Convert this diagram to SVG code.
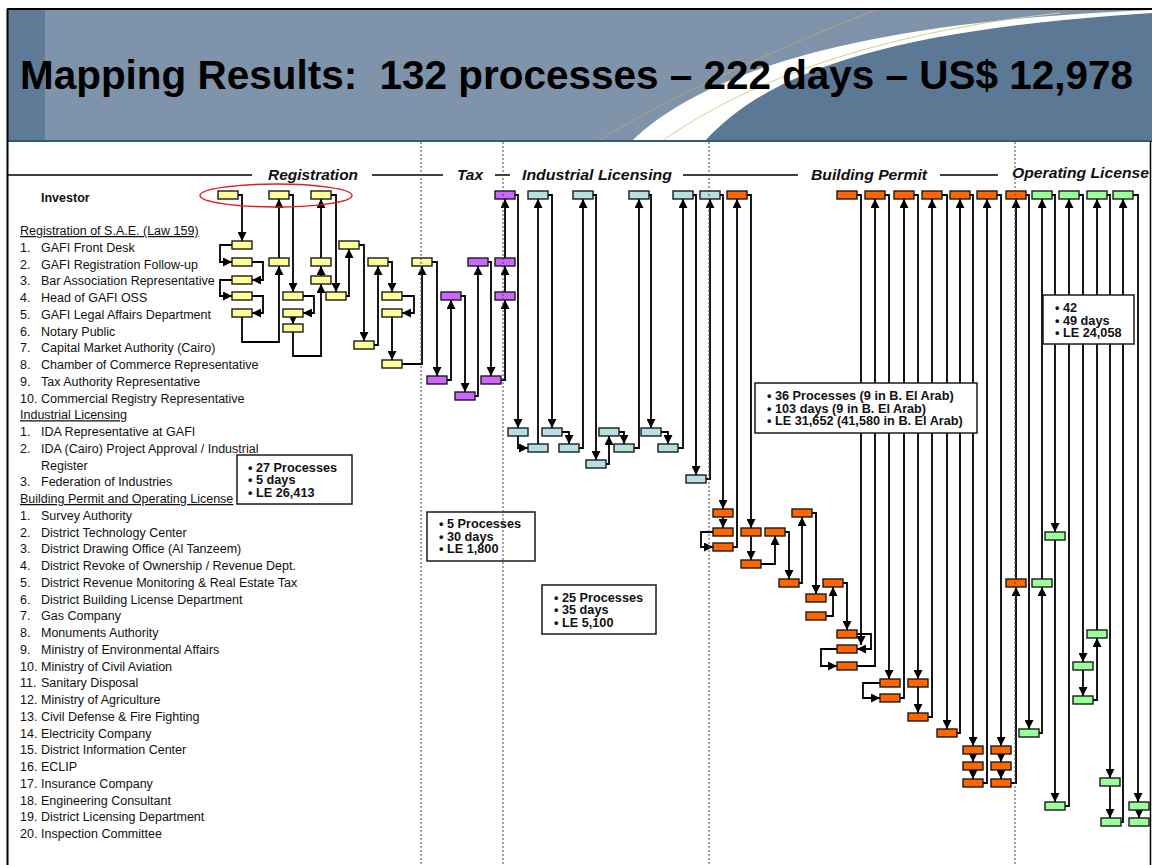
<svg xmlns="http://www.w3.org/2000/svg" width="1152" height="865" viewBox="0 0 1152 865">
<style>
text{font-family:"Liberation Sans",Arial,sans-serif;fill:#111}
.li{font-size:12.5px}
.sec{font-size:15px;font-weight:bold;font-style:italic}
.sum{font-size:12.7px;font-weight:bold}
.nd rect{stroke:#1a1a1a;stroke-width:1.4}
.y rect{fill:#ffff99}
.p rect{fill:#cc66ff}
.l rect{fill:#b8dfe2}
.o rect{fill:#ff6600}
.g rect{fill:#99ff99}
#connectors path{fill:none;stroke:#000;stroke-width:1.8;marker-end:url(#ah)}
.sb{fill:#fff;stroke:#1a1a1a;stroke-width:1.5}
.dot{stroke:#444;stroke-width:1;stroke-dasharray:2 2}
</style>
<defs>
<marker id="ah" viewBox="0 0 8 8" refX="8" refY="4" markerWidth="9" markerHeight="9" markerUnits="userSpaceOnUse" orient="auto"><path d="M0,0L8,4L0,8z" fill="#000"/></marker>
</defs>
<rect x="0" y="0" width="1152" height="865" fill="#fff"/>
<g id="header">
<rect x="8" y="10" width="1144" height="131" fill="#7f94ab"/>
<rect x="8" y="10" width="37" height="131" fill="#5f7b97"/>
<path d="M705,141 C765,75 880,30 1152,13 L1152,141 Z" fill="#5b7895"/>
<path d="M632,141 C700,75 850,22 1152,10 L1152,13 C880,30 765,75 705,141 Z" fill="#fff"/>
<path d="M598,141 C680,90 800,40 875,10" stroke="#b0a57a" fill="none" stroke-width="1"/>
<path d="M662,141 C760,72 900,30 1060,13" stroke="#d8d08a" fill="none" stroke-width="1"/>
<line x1="8" y1="141" x2="1152" y2="141" stroke="#2f5a78" stroke-width="2"/>
<text x="20" y="89" font-size="41" font-weight="bold" textLength="1113" lengthAdjust="spacingAndGlyphs" style="fill:#000">Mapping Results:&#160; 132 processes – 222 days – US$ 12,978</text>
</g>
<g id="frame" stroke="#000" fill="none">
<line x1="7" y1="9" x2="1152" y2="9" stroke-width="2"/>
<line x1="7.5" y1="9" x2="7.5" y2="865" stroke-width="2"/>
<line x1="1150.5" y1="141" x2="1150.5" y2="865" stroke-width="1.5"/>
</g>
<g id="sections">
<g stroke="#000" stroke-width="1.5">
<line x1="8" y1="175" x2="252" y2="175"/>
<line x1="372" y1="175" x2="443" y2="175"/>
<line x1="495" y1="175" x2="510" y2="175"/>
<line x1="683" y1="175" x2="798" y2="175"/>
<line x1="940" y1="175" x2="998" y2="175"/>
</g>
<text class="sec" x="268" y="180" textLength="90" lengthAdjust="spacingAndGlyphs">Registration</text>
<text class="sec" x="457" y="180" textLength="26" lengthAdjust="spacingAndGlyphs">Tax</text>
<text class="sec" x="522" y="180" textLength="150" lengthAdjust="spacingAndGlyphs">Industrial Licensing</text>
<text class="sec" x="811" y="180" textLength="116" lengthAdjust="spacingAndGlyphs">Building Permit</text>
<text class="sec" x="1012" y="178" textLength="137" lengthAdjust="spacingAndGlyphs">Operating License</text>
</g>
<g id="legend" class="li">
<text x="41" y="201.5" font-weight="bold">Investor</text>
<text x="20" y="235" text-decoration="underline">Registration of S.A.E. (Law 159)</text>
<text x="20" y="251.75">1.</text><text x="41" y="251.75">GAFI Front Desk</text>
<text x="20" y="268.5">2.</text><text x="41" y="268.5">GAFI Registration Follow-up</text>
<text x="20" y="285.25">3.</text><text x="41" y="285.25">Bar Association Representative</text>
<text x="20" y="302">4.</text><text x="41" y="302">Head of GAFI OSS</text>
<text x="20" y="318.75">5.</text><text x="41" y="318.75">GAFI Legal Affairs Department</text>
<text x="20" y="335.5">6.</text><text x="41" y="335.5">Notary Public</text>
<text x="20" y="352.25">7.</text><text x="41" y="352.25">Capital Market Authority (Cairo)</text>
<text x="20" y="369">8.</text><text x="41" y="369">Chamber of Commerce Representative</text>
<text x="20" y="385.75">9.</text><text x="41" y="385.75">Tax Authority Representative</text>
<text x="20" y="402.5">10.</text><text x="41" y="402.5">Commercial Registry Representative</text>
<text x="20" y="419.25" text-decoration="underline">Industrial Licensing</text>
<text x="20" y="436">1.</text><text x="41" y="436">IDA Representative at GAFI</text>
<text x="20" y="452.75">2.</text><text x="41" y="452.75">IDA (Cairo) Project Approval / Industrial</text>
<text x="41" y="469.5">Register</text>
<text x="20" y="486.25">3.</text><text x="41" y="486.25">Federation of Industries</text>
<text x="20" y="503" text-decoration="underline">Building Permit and Operating License</text>
<text x="20" y="519.75">1.</text><text x="41" y="519.75">Survey Authority</text>
<text x="20" y="536.5">2.</text><text x="41" y="536.5">District Technology Center</text>
<text x="20" y="553.25">3.</text><text x="41" y="553.25">District Drawing Office (Al Tanzeem)</text>
<text x="20" y="570">4.</text><text x="41" y="570">District Revoke of Ownership / Revenue Dept.</text>
<text x="20" y="586.75">5.</text><text x="41" y="586.75">District Revenue Monitoring &amp; Real Estate Tax</text>
<text x="20" y="603.5">6.</text><text x="41" y="603.5">District Building License Department</text>
<text x="20" y="620.25">7.</text><text x="41" y="620.25">Gas Company</text>
<text x="20" y="637">8.</text><text x="41" y="637">Monuments Authority</text>
<text x="20" y="653.75">9.</text><text x="41" y="653.75">Ministry of Environmental Affairs</text>
<text x="20" y="670.5">10.</text><text x="41" y="670.5">Ministry of Civil Aviation</text>
<text x="20" y="687.25">11.</text><text x="41" y="687.25">Sanitary Disposal</text>
<text x="20" y="704">12.</text><text x="41" y="704">Ministry of Agriculture</text>
<text x="20" y="720.75">13.</text><text x="41" y="720.75">Civil Defense &amp; Fire Fighting</text>
<text x="20" y="737.5">14.</text><text x="41" y="737.5">Electricity Company</text>
<text x="20" y="754.25">15.</text><text x="41" y="754.25">District Information Center</text>
<text x="20" y="771">16.</text><text x="41" y="771">ECLIP</text>
<text x="20" y="787.75">17.</text><text x="41" y="787.75">Insurance Company</text>
<text x="20" y="804.5">18.</text><text x="41" y="804.5">Engineering Consultant</text>
<text x="20" y="821.25">19.</text><text x="41" y="821.25">District Licensing Department</text>
<text x="20" y="838">20.</text><text x="41" y="838">Inspection Committee</text>
</g>
<g id="connectors">
<path d="M238,195 H242 V241"/>
<path d="M232,245 H220 V262 H232"/>
<path d="M252,262 H263 V280 H252"/>
<path d="M232,280 H220 V296 H232"/>
<path d="M252,296 H263 V313 H252"/>
<path d="M242,317 V342 H279 V266"/>
<path d="M279,258 V199"/>
<path d="M289,195 H293 V292"/>
<path d="M303,296 H314 V313 H303"/>
<path d="M293,317 V324"/>
<path d="M293,332 V356 H321 V284"/>
<path d="M321,276 V266"/>
<path d="M321,258 V199"/>
<path d="M331,195 H336 V292"/>
<path d="M346,296 H349 V249"/>
<path d="M359,245 H364 V341"/>
<path d="M374,345 H378 V266"/>
<path d="M388,262 H392 V292"/>
<path d="M402,296 H414 V313 H402"/>
<path d="M392,317 V360"/>
<path d="M402,364 H422 V266"/>
<path d="M432,262 H437 V376"/>
<path d="M447,380 H451 V300"/>
<path d="M461,296 H465 V392"/>
<path d="M475,396 H478 V266"/>
<path d="M488,262 H491 V376"/>
<path d="M501,380 H505 V300"/>
<path d="M505,292 V266"/>
<path d="M505,258 V199"/>
<path d="M515,195 H518 V428"/>
<path d="M518,436 V448 H528"/>
<path d="M538,444 V199"/>
<path d="M548,195 H552 V428"/>
<path d="M562,432 H569 V444"/>
<path d="M579,448 H583 V199"/>
<path d="M593,195 H596 V460"/>
<path d="M606,464 H609 V436"/>
<path d="M619,432 H624 V444"/>
<path d="M634,448 H639 V199"/>
<path d="M649,195 H651 V428"/>
<path d="M661,432 H668 V444"/>
<path d="M678,448 H683 V199"/>
<path d="M693,195 H696 V475"/>
<path d="M706,479 H710 V199"/>
<path d="M720,195 H723 V509"/>
<path d="M723,517 V528"/>
<path d="M713,532 H701 V547 H713"/>
<path d="M733,547 H737 V199"/>
<path d="M747,195 H751 V528"/>
<path d="M751,536 V560"/>
<path d="M761,564 H775 V536"/>
<path d="M785,532 H789 V579"/>
<path d="M799,583 H802 V517"/>
<path d="M812,513 H816 V594"/>
<path d="M826,616 H833 V587"/>
<path d="M843,583 H847 V630"/>
<path d="M857,634 H871 V649 H857"/>
<path d="M857,195 H861 V645"/>
<path d="M837,649 H821 V666 H837"/>
<path d="M857,666 H875 V199"/>
<path d="M885,195 H889 V679"/>
<path d="M880,683 H863 V698 H880"/>
<path d="M900,698 H904 V199"/>
<path d="M914,195 H918 V679"/>
<path d="M918,687 V713"/>
<path d="M928,717 H932 V199"/>
<path d="M942,195 H947 V729"/>
<path d="M957,733 H960 V199"/>
<path d="M970,195 H973 V746"/>
<path d="M973,754 V762"/>
<path d="M973,770 V779"/>
<path d="M983,783 H987 V199"/>
<path d="M997,195 H1001 V746"/>
<path d="M1001,754 V762"/>
<path d="M1001,770 V779"/>
<path d="M1011,783 H1016 V587"/>
<path d="M1016,579 V199"/>
<path d="M1026,195 H1029 V729"/>
<path d="M1039,733 H1042 V587"/>
<path d="M1042,579 V199"/>
<path d="M1052,195 H1055 V532"/>
<path d="M1055,540 V802"/>
<path d="M1065,806 H1069 V199"/>
<path d="M1079,195 H1083 V662"/>
<path d="M1083,670 V696"/>
<path d="M1093,700 H1097 V638"/>
<path d="M1097,630 V199"/>
<path d="M1107,195 H1110 V778"/>
<path d="M1110,786 V818"/>
<path d="M1121,822 H1123 V199"/>
<path d="M1133,195 H1138 V802"/>
<path d="M1139,810 V818"/>
</g>
<g id="nodes" class="nd">
<g class="y">
<g id="y1"><rect x="218" y="191" width="20" height="8"/></g>
<g id="y2"><rect x="269" y="191" width="20" height="8"/></g>
<g id="y3"><rect x="311" y="191" width="20" height="8"/></g>
<g id="y4"><rect x="232" y="241" width="20" height="8"/></g>
<g id="y5"><rect x="232" y="258" width="20" height="8"/></g>
<g id="y6"><rect x="232" y="276" width="20" height="8"/></g>
<g id="y7"><rect x="232" y="292" width="20" height="8"/></g>
<g id="y8"><rect x="232" y="309" width="20" height="8"/></g>
<g id="y9"><rect x="269" y="258" width="20" height="8"/></g>
<g id="y10"><rect x="283" y="292" width="20" height="8"/></g>
<g id="y11"><rect x="283" y="309" width="20" height="8"/></g>
<g id="y12"><rect x="283" y="324" width="20" height="8"/></g>
<g id="y13"><rect x="311" y="276" width="20" height="8"/></g>
<g id="y14"><rect x="311" y="258" width="20" height="8"/></g>
<g id="y15"><rect x="326" y="292" width="20" height="8"/></g>
<g id="y16"><rect x="339" y="241" width="20" height="8"/></g>
<g id="y17"><rect x="354" y="341" width="20" height="8"/></g>
<g id="y18"><rect x="368" y="258" width="20" height="8"/></g>
<g id="y19"><rect x="382" y="292" width="20" height="8"/></g>
<g id="y20"><rect x="382" y="309" width="20" height="8"/></g>
<g id="y21"><rect x="382" y="360" width="20" height="8"/></g>
<g id="y22"><rect x="412" y="258" width="20" height="8"/></g>
</g>
<g class="p">
<g id="p1"><rect x="427" y="376" width="20" height="8"/></g>
<g id="p2"><rect x="441" y="292" width="20" height="8"/></g>
<g id="p3"><rect x="455" y="392" width="20" height="8"/></g>
<g id="p4"><rect x="468" y="258" width="20" height="8"/></g>
<g id="p5"><rect x="481" y="376" width="20" height="8"/></g>
<g id="p6"><rect x="495" y="292" width="20" height="8"/></g>
<g id="p7"><rect x="495" y="258" width="20" height="8"/></g>
<g id="p8"><rect x="495" y="191" width="20" height="8"/></g>
</g>
<g class="l">
<g id="l1"><rect x="528" y="191" width="20" height="8"/></g>
<g id="l2"><rect x="573" y="191" width="20" height="8"/></g>
<g id="l3"><rect x="629" y="191" width="20" height="8"/></g>
<g id="l4"><rect x="673" y="191" width="20" height="8"/></g>
<g id="l5"><rect x="700" y="191" width="20" height="8"/></g>
<g id="l6"><rect x="508" y="428" width="20" height="8"/></g>
<g id="l7"><rect x="528" y="444" width="20" height="8"/></g>
<g id="l8"><rect x="542" y="428" width="20" height="8"/></g>
<g id="l9"><rect x="559" y="444" width="20" height="8"/></g>
<g id="l10"><rect x="586" y="460" width="20" height="8"/></g>
<g id="l11"><rect x="599" y="428" width="20" height="8"/></g>
<g id="l12"><rect x="614" y="444" width="20" height="8"/></g>
<g id="l13"><rect x="641" y="428" width="20" height="8"/></g>
<g id="l14"><rect x="658" y="444" width="20" height="8"/></g>
<g id="l15"><rect x="686" y="475" width="20" height="8"/></g>
</g>
<g class="o">
<g id="o1"><rect x="727" y="191" width="20" height="8"/></g>
<g id="o2"><rect x="837" y="191" width="20" height="8"/></g>
<g id="o3"><rect x="865" y="191" width="20" height="8"/></g>
<g id="o4"><rect x="894" y="191" width="20" height="8"/></g>
<g id="o5"><rect x="922" y="191" width="20" height="8"/></g>
<g id="o6"><rect x="950" y="191" width="20" height="8"/></g>
<g id="o7"><rect x="977" y="191" width="20" height="8"/></g>
<g id="o8"><rect x="1006" y="191" width="20" height="8"/></g>
<g id="o9"><rect x="713" y="509" width="20" height="8"/></g>
<g id="o10"><rect x="713" y="528" width="20" height="8"/></g>
<g id="o11"><rect x="713" y="543" width="20" height="8"/></g>
<g id="o12"><rect x="741" y="528" width="20" height="8"/></g>
<g id="o13"><rect x="741" y="560" width="20" height="8"/></g>
<g id="o14"><rect x="765" y="528" width="20" height="8"/></g>
<g id="o15"><rect x="792" y="509" width="20" height="8"/></g>
<g id="o16"><rect x="779" y="579" width="20" height="8"/></g>
<g id="o17"><rect x="806" y="594" width="20" height="8"/></g>
<g id="o18"><rect x="823" y="579" width="20" height="8"/></g>
<g id="o19"><rect x="806" y="612" width="20" height="8"/></g>
<g id="o20"><rect x="837" y="630" width="20" height="8"/></g>
<g id="o21"><rect x="837" y="645" width="20" height="8"/></g>
<g id="o22"><rect x="837" y="662" width="20" height="8"/></g>
<g id="o23"><rect x="880" y="679" width="20" height="8"/></g>
<g id="o24"><rect x="880" y="694" width="20" height="8"/></g>
<g id="o25"><rect x="908" y="679" width="20" height="8"/></g>
<g id="o26"><rect x="908" y="713" width="20" height="8"/></g>
<g id="o27"><rect x="937" y="729" width="20" height="8"/></g>
<g id="o28"><rect x="963" y="746" width="20" height="8"/></g>
<g id="o29"><rect x="963" y="762" width="20" height="8"/></g>
<g id="o30"><rect x="963" y="779" width="20" height="8"/></g>
<g id="o31"><rect x="991" y="746" width="20" height="8"/></g>
<g id="o32"><rect x="991" y="762" width="20" height="8"/></g>
<g id="o33"><rect x="991" y="779" width="20" height="8"/></g>
<g id="o34"><rect x="1006" y="579" width="20" height="8"/></g>
</g>
<g class="g">
<g id="g1"><rect x="1032" y="191" width="20" height="8"/></g>
<g id="g2"><rect x="1059" y="191" width="20" height="8"/></g>
<g id="g3"><rect x="1087" y="191" width="20" height="8"/></g>
<g id="g4"><rect x="1113" y="191" width="20" height="8"/></g>
<g id="g5"><rect x="1045" y="532" width="20" height="8"/></g>
<g id="g6"><rect x="1032" y="579" width="20" height="8"/></g>
<g id="g7"><rect x="1019" y="729" width="20" height="8"/></g>
<g id="g8"><rect x="1087" y="630" width="20" height="8"/></g>
<g id="g9"><rect x="1073" y="662" width="20" height="8"/></g>
<g id="g10"><rect x="1073" y="696" width="20" height="8"/></g>
<g id="g11"><rect x="1045" y="802" width="20" height="8"/></g>
<g id="g12"><rect x="1100" y="778" width="20" height="8"/></g>
<g id="g13"><rect x="1101" y="818" width="20" height="8"/></g>
<g id="g14"><rect x="1129" y="802" width="20" height="8"/></g>
<g id="g15"><rect x="1129" y="818" width="20" height="8"/></g>
</g>
</g>
<g id="investor-ring"><ellipse cx="276" cy="195.5" rx="76" ry="11.5" fill="none" stroke="#e02020" stroke-width="1.5"/></g>
<g id="summaries" class="sum">
<g id="sum-registration"><rect class="sb" x="237" y="455" width="115" height="49"/>
<text x="248" y="471.5">• 27 Processes</text><text x="248" y="484">• 5 days</text><text x="248" y="496.5">• LE 26,413</text></g>
<g id="sum-tax"><rect class="sb" x="427" y="512" width="108" height="49"/>
<text x="439" y="528">• 5 Processes</text><text x="439" y="540.5">• 30 days</text><text x="439" y="553">• LE 1,800</text></g>
<g id="sum-industrial"><rect class="sb" x="542" y="585" width="114" height="49"/>
<text x="554" y="601.5">• 25 Processes</text><text x="554" y="614">• 35 days</text><text x="554" y="626.5">• LE 5,100</text></g>
<g id="sum-building"><rect class="sb" x="755" y="383" width="222" height="50"/>
<text x="767" y="400">• 36 Processes (9 in B. El Arab)</text><text x="767" y="412.5">• 103 days (9 in B. El Arab)</text><text x="767" y="425">• LE 31,652 (41,580 in B. El Arab)</text></g>
<g id="sum-operating"><rect class="sb" x="1043" y="295" width="91" height="49"/>
<text x="1055" y="312">• 42</text><text x="1055" y="324.5">• 49 days</text><text x="1055" y="337">• LE 24,058</text></g>
</g>
<g id="dividers" class="dot">
<line x1="421" y1="142" x2="421" y2="865"/>
<line x1="503" y1="142" x2="503" y2="865"/>
<line x1="709" y1="142" x2="709" y2="865"/>
<line x1="1015" y1="142" x2="1015" y2="865"/>
</g>
</svg>
